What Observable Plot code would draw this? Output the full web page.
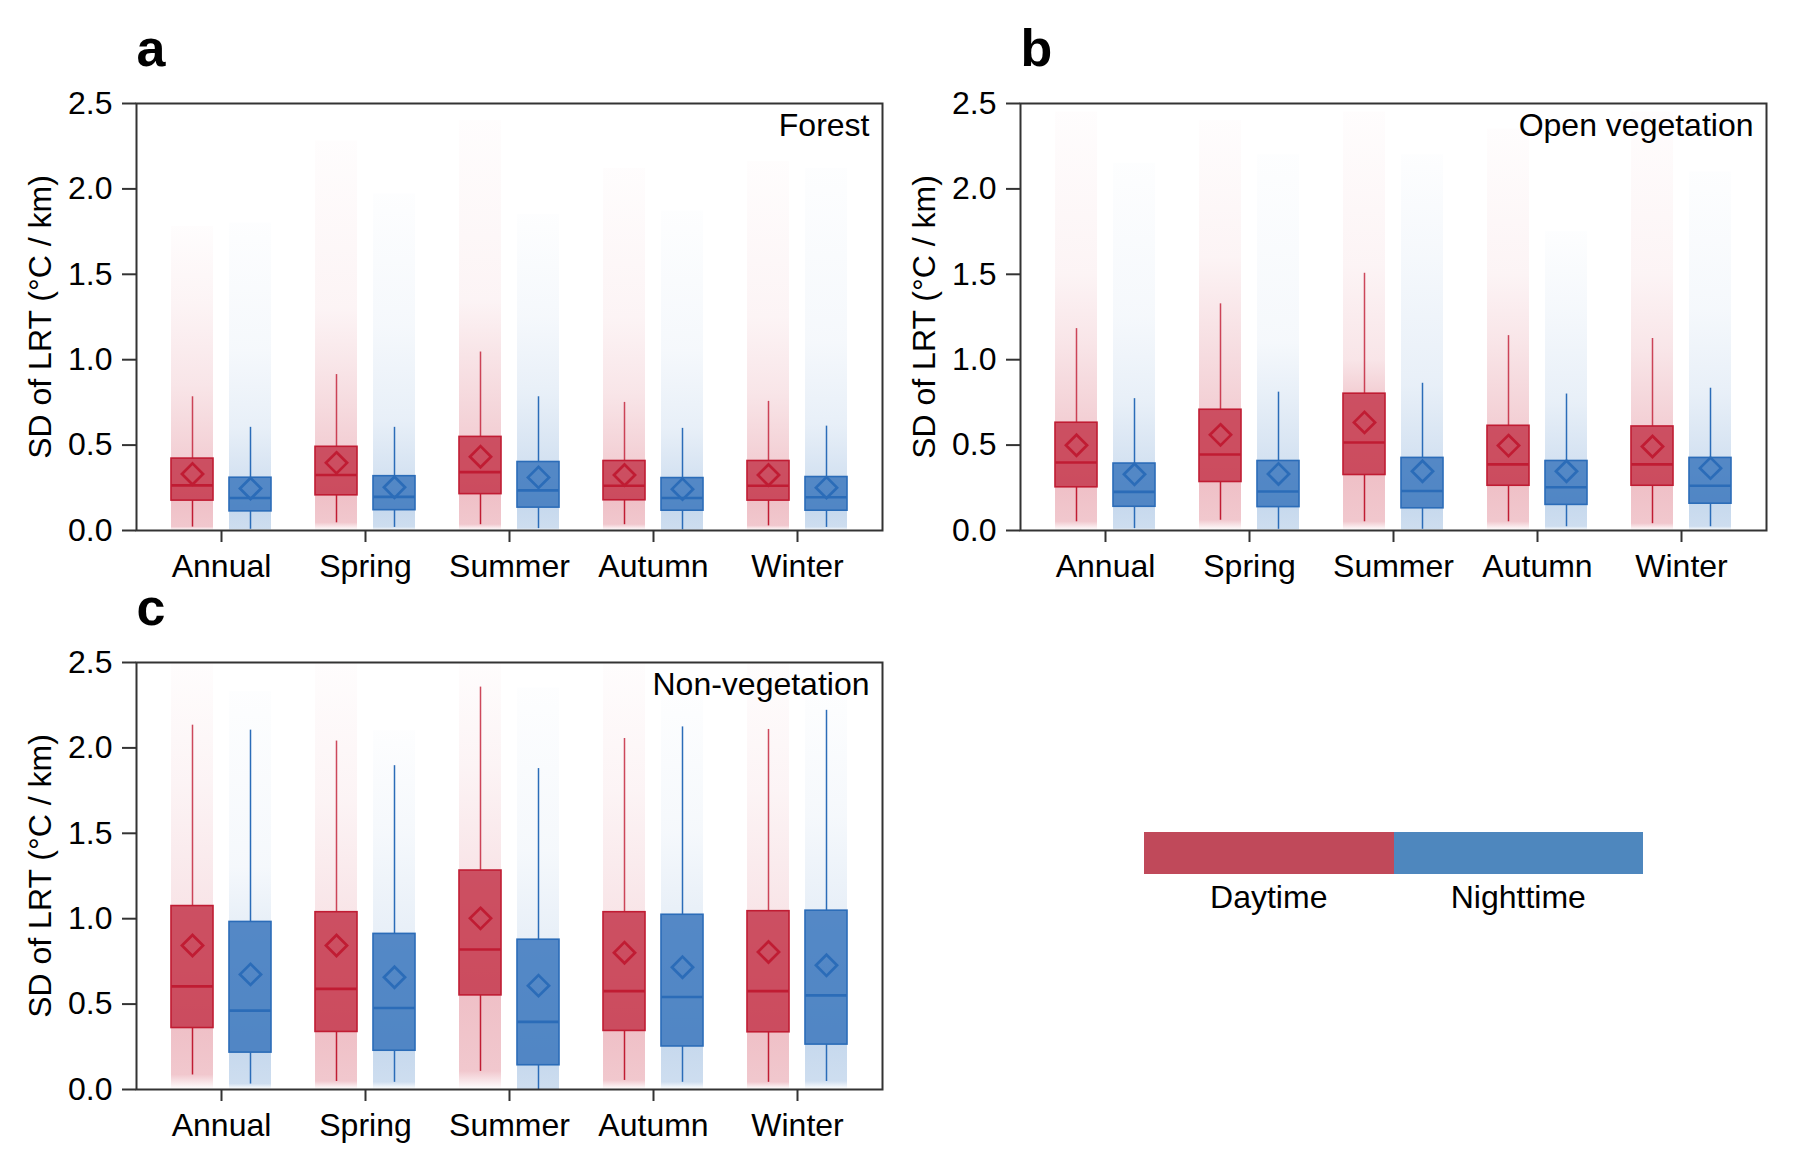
<!DOCTYPE html>
<html>
<head>
<meta charset="utf-8">
<script src="https://cdn.jsdelivr.net/npm/d3@7"></script>
<script src="https://cdn.jsdelivr.net/npm/@observablehq/plot@0.6"></script>
<style>
  body { margin: 0; background: #fff; font-family: "Liberation Sans", Arial, sans-serif; }
  #wrap { position: relative; width: 1819px; height: 1168px; overflow: hidden; }
  .panel { position: absolute; }
  .leg { position: absolute; }
  .legtxt { position: absolute; font-size: 32px; line-height: 32px; text-align: center; color: #000; }
</style>
</head>
<body>
<div id="wrap">
  <div id="pa" class="panel" style="left:0px;top:0px"></div>
  <div id="pb" class="panel" style="left:884px;top:0px"></div>
  <div id="pc" class="panel" style="left:0px;top:559px"></div>
  <div id="legend"></div>
</div>
<script>
const categories = ["Annual", "Spring", "Summer", "Autumn", "Winter"];
const periods = ["Daytime", "Nighttime"];
const yTicks = [0, 0.5, 1.0, 1.5, 2.0, 2.5];
const yLabel = "SD of LRT (°C / km)";

// each array: [Daytime values by category, Nighttime values by category]
// a — Forest
const forestLow    = [[0.020, 0.045, 0.034, 0.034, 0.027], [0.007, 0.018, 0.011, 0.004, 0.018]];
const forestQ1     = [[0.175, 0.206, 0.213, 0.177, 0.175], [0.112, 0.119, 0.134, 0.116, 0.116]];
const forestMedian = [[0.264, 0.325, 0.342, 0.262, 0.262], [0.190, 0.197, 0.235, 0.190, 0.195]];
const forestQ3     = [[0.421, 0.490, 0.548, 0.407, 0.407], [0.309, 0.318, 0.401, 0.307, 0.313]];
const forestHigh   = [[0.783, 0.913, 1.045, 0.750, 0.756], [0.604, 0.604, 0.783, 0.598, 0.611]];
const forestMean   = [[0.331, 0.396, 0.432, 0.325, 0.325], [0.246, 0.253, 0.311, 0.242, 0.251]];
const forestCloudDense = [[0.85, 0.95, 1.05, 0.80, 0.80], [0.60, 0.65, 0.80, 0.60, 0.62]];
const forestCloudMid   = [[1.33, 1.30, 1.35, 1.25, 1.25], [1.05, 1.20, 1.25, 1.05, 1.10]];
const forestCloudMax   = [[1.78, 2.28, 2.40, 2.12, 2.16], [1.80, 1.97, 1.85, 1.87, 2.12]];

// b — Open vegetation
const openLow    = [[0.051, 0.060, 0.051, 0.051, 0.040], [0.011, 0.007, 0.007, 0.022, 0.022]];
const openQ1     = [[0.253, 0.284, 0.325, 0.262, 0.262], [0.139, 0.137, 0.130, 0.150, 0.157]];
const openMedian = [[0.398, 0.445, 0.515, 0.387, 0.387], [0.226, 0.228, 0.231, 0.253, 0.262]];
const openQ3     = [[0.631, 0.707, 0.801, 0.613, 0.609], [0.392, 0.407, 0.425, 0.407, 0.425]];
const openHigh   = [[1.182, 1.327, 1.506, 1.141, 1.124], [0.772, 0.810, 0.862, 0.799, 0.833]];
const openMean   = [[0.499, 0.560, 0.633, 0.497, 0.492], [0.329, 0.331, 0.347, 0.347, 0.365]];
const openCloudDense = [[1.10, 1.25, 1.00, 1.10, 1.05], [0.75, 0.80, 0.85, 0.75, 0.80]];
const openCloudMid   = [[1.50, 1.60, 1.55, 1.50, 1.50], [1.25, 1.10, 1.60, 1.30, 1.30]];
const openCloudMax   = [[2.45, 2.40, 2.45, 2.35, 2.45], [2.15, 2.20, 2.20, 1.75, 2.10]];

// c — Non-vegetation
const nonLow    = [[0.085, 0.047, 0.106, 0.053, 0.042], [0.032, 0.042, 0.000, 0.042, 0.047]];
const nonQ1     = [[0.360, 0.337, 0.551, 0.343, 0.335], [0.216, 0.227, 0.142, 0.252, 0.263]];
const nonMedian = [[0.604, 0.589, 0.820, 0.576, 0.576], [0.462, 0.477, 0.396, 0.542, 0.551]];
const nonQ3     = [[1.074, 1.038, 1.282, 1.038, 1.044], [0.981, 0.911, 0.877, 1.023, 1.047]];
const nonHigh   = [[2.133, 2.040, 2.356, 2.055, 2.108], [2.104, 1.896, 1.879, 2.123, 2.220]];
const nonMean   = [[0.843, 0.843, 1.002, 0.801, 0.805], [0.674, 0.657, 0.608, 0.716, 0.727]];
const nonCloudDense = [[1.074, 1.038, 1.282, 1.038, 1.044], [0.981, 0.911, 0.877, 1.023, 1.047]];
const nonCloudMid   = [[1.80, 1.70, 1.90, 1.75, 1.75], [1.30, 1.50, 1.40, 1.50, 1.60]];
const nonCloudMax   = [[2.50, 2.50, 2.50, 2.50, 2.50], [2.33, 2.10, 2.35, 2.30, 2.30]];

const strokeColor = {Daytime: "#C01C33", Nighttime: "#2B6CB8"};
const fillColor = {Daytime: "#C0283E", Nighttime: "#2B6CB8"};
const cloudColor = {Daytime: "#D0465A", Nighttime: "#5A8FCB"};
const legendColor = {Daytime: "#C0495A", Nighttime: "#4E87BE"};
const offset = {Daytime: -29, Nighttime: 29};
const FONT = "'Liberation Sans', Arial, sans-serif";

function buildRows(low, q1, median, q3, high, mean, dense, mid, max) {
  const rows = [];
  periods.forEach((p, pi) => {
    categories.forEach((c, ci) => {
      rows.push({season: c, period: p, ci, low: low[pi][ci], q1: q1[pi][ci], median: median[pi][ci],
        q3: q3[pi][ci], high: high[pi][ci], mean: mean[pi][ci],
        dense: dense[pi][ci], mid: mid[pi][ci], max: max[pi][ci]});
    });
  });
  return rows;
}

function gradId(letter, d) { return `g-${letter}-${d.period}-${d.ci}`; }

function panel(rows, letter, name) {
  const marks = [];
  for (const p of periods) {
    const rs = rows.filter(d => d.period === p);
    const dx = offset[p];
    // jittered-point cloud drawn as a density gradient
    for (const d of rs) {
      marks.push(Plot.barY([d], {x: "season", y1: 0, y2: "max", fill: `url(#${gradId(letter, d)})`, dx}));
    }
  }
  for (const p of periods) {
    const rs = rows.filter(d => d.period === p);
    const dx = offset[p];
    const c = fillColor[p];
    const s = strokeColor[p];
    marks.push(Plot.ruleX(rs, {x: "season", y1: "low", y2: "q1", stroke: s, strokeWidth: 1.5, dx}));
    marks.push(Plot.ruleX(rs, {x: "season", y1: "q3", y2: "high", stroke: s, strokeWidth: 1.5, strokeOpacity: p === "Daytime" ? 0.8 : 1, dx}));
    marks.push(Plot.barY(rs, {x: "season", y1: "q1", y2: "q3", fill: c, fillOpacity: 0.76, stroke: s, strokeWidth: 1.6, dx}));
    marks.push(Plot.tickY(rs, {x: "season", y: "median", stroke: s, strokeWidth: 2.6, dx}));
    marks.push(Plot.dot(rs, {x: "season", y: "mean", symbol: "diamond2", r: 9.5, stroke: s, strokeWidth: 2.7, fill: "none", dx}));
  }
  marks.push(Plot.frame({stroke: "#333", strokeWidth: 2}));
  marks.push(Plot.axisY({ticks: yTicks, tickFormat: d => d.toFixed(1), tickSize: 14, tickPadding: 10,
    label: null, fontSize: 32, strokeWidth: 2, stroke: "#333", fill: "#000"}));
  marks.push(Plot.axisX({tickSize: 12, tickPadding: 12, label: null, fontSize: 32, strokeWidth: 2, stroke: "#333", fill: "#000"}));
  marks.push(Plot.text([yLabel], {frameAnchor: "left", dx: -96, rotate: -90, fontSize: 32, fill: "#000", textAnchor: "middle", lineAnchor: "middle"}));
  marks.push(Plot.text([letter], {frameAnchor: "top-left", dx: 0, dy: -54, textAnchor: "start", lineAnchor: "middle", fontSize: 52, fontWeight: "bold", fill: "#000"}));
  marks.push(Plot.text([name], {frameAnchor: "top-right", dx: -13, dy: 10, textAnchor: "end", lineAnchor: "top", fontSize: 32, fill: "#000"}));
  const svg = Plot.plot({
    width: 902,
    height: 600,
    marginLeft: 136,
    marginRight: 20,
    marginTop: 103,
    marginBottom: 70,
    style: {fontFamily: FONT, fontSize: "32px", color: "#000", background: "transparent", overflow: "visible"},
    x: {type: "band", domain: categories, paddingInner: 0.708, paddingOuter: 0.444},
    y: {domain: [0, 2.5]},
    marks
  });
  // gradient definitions built from the read cloud levels
  const defs = d3.select(svg).insert("defs", ":first-child");
  for (const d of rows) {
    const span = d.max;
    const pos = v => Math.max(0, Math.min(1, v / span));
    const stops = [
      [0, 0.0],
      [pos(d.low), 0.30],
      [pos(d.q1), 0.34],
      [pos(d.q3), 0.26],
      [pos(Math.max(d.dense, d.q3)), 0.14],
      [pos(Math.max(d.mid, d.dense)), 0.06],
      [1, 0.012]
    ];
    const g = defs.append("linearGradient").attr("id", gradId(letter, d))
      .attr("x1", 0).attr("y1", 1).attr("x2", 0).attr("y2", 0);
    for (const [o, a] of stops) {
      g.append("stop").attr("offset", o).attr("stop-color", cloudColor[d.period]).attr("stop-opacity", a);
    }
  }
  return svg;
}

document.getElementById("pa").appendChild(panel(buildRows(forestLow, forestQ1, forestMedian, forestQ3, forestHigh, forestMean, forestCloudDense, forestCloudMid, forestCloudMax), "a", "Forest"));
document.getElementById("pb").appendChild(panel(buildRows(openLow, openQ1, openMedian, openQ3, openHigh, openMean, openCloudDense, openCloudMid, openCloudMax), "b", "Open vegetation"));
document.getElementById("pc").appendChild(panel(buildRows(nonLow, nonQ1, nonMedian, nonQ3, nonHigh, nonMean, nonCloudDense, nonCloudMid, nonCloudMax), "c", "Non-vegetation"));

// legend
const leg = document.getElementById("legend");
periods.forEach((p, i) => {
  const left = 1144 + i * 249.5;
  const sw = document.createElement("div");
  sw.className = "leg";
  sw.style.cssText = `left:${left}px;top:832px;width:249.5px;height:42px;background:${legendColor[p]}`;
  leg.appendChild(sw);
  const t = document.createElement("div");
  t.className = "legtxt";
  t.style.cssText = `left:${left}px;top:881px;width:249.5px`;
  t.textContent = p;
  leg.appendChild(t);
});
</script>
</body>
</html>
